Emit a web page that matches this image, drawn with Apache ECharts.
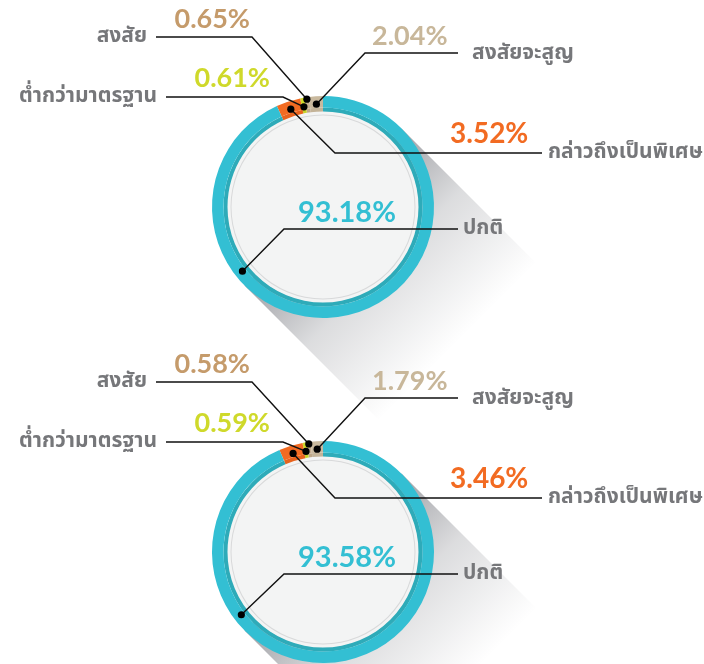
<!DOCTYPE html>
<html><head><meta charset="utf-8">
<script src="https://cdn.jsdelivr.net/npm/echarts@6/dist/echarts.min.js"></script>
<style>html,body{margin:0;padding:0;background:#fff}#c{width:704px;height:664px}</style>
</head><body><div id="c"></div>
<script>
// ---- data ----
const categories = ['สงสัยจะสูญ', 'สงสัย', 'ต่ำกว่ามาตรฐาน', 'กล่าวถึงเป็นพิเศษ', 'ปกติ'];
const valuesTop = [2.04, 0.65, 0.61, 3.52, 93.18];
const valuesBottom = [1.79, 0.58, 0.59, 3.46, 93.58];

// ---- styles ----
const ringColors  = ['#c9b99e', '#c4ad8e', '#cfd92b', '#f26b22', '#33bfd3'];
const innerColors = ['#c3b398', '#bea788', '#c8d228', '#e8631d', '#2eabb9'];
const labelColors = ['#c8b79a', '#c59b6b', '#cfd92b', '#f26b22', '#33bfd3'];
const nameColor = '#76777a';
const numFont = "Lato, 'Open Sans', sans-serif";
const thaiFont = "'Noto Sans Thai', 'Noto Sans', sans-serif";

const donuts = [
  { values: valuesTop, center: [323, 207] },
  { values: valuesBottom, center: [323, 552] }
];

// label layout relative to donut centre (positions only)
const layoutSpec = [
  { side: 'right', frac: 0.5, rad: 103, bend: [42, -154], end: 135, val: [49, -171], name: [149, -152], size: 27 },
  { side: 'left', frac: 0.5, rad: 109, bend: [-71, -170], end: -167, val: [-73, -188], name: [-176, -169], size: 27 },
  { side: 'left', frac: 0.5, rad: 102, bend: [-40, -110], end: -157, val: [-53, -129], name: [-166, -109], size: 27 },
  { side: 'right', frac: 0.5, rad: 103, bend: [12, -54], end: 219, val: [127, -73], name: [225, -53], size: 28 },
  { side: 'right', frac: 0.31, rad: 103, bend: [-39, 22], end: 135, val: [-25, 6], name: [140, 23], size: 29 }
];

const series = [];
donuts.forEach(d => {
  const base = { type: 'pie', center: d.center, startAngle: 90, clockwise: false, silent: true,
    animation: false, label: { show: false }, labelLine: { show: false }, avoidLabelOverlap: false,
    emphasis: { disabled: true }, z: 2 };
  series.push(Object.assign({}, base, { radius: [0, 96], data: [{ value: 1, itemStyle: { color: '#f3f4f4' } }] }));
  series.push(Object.assign({}, base, { radius: [91.5, 92.5], data: [{ value: 1, itemStyle: { color: '#d8d9da' } }] }));
  series.push(Object.assign({}, base, { radius: [95.5, 99.5],
    data: d.values.map((v, i) => ({ name: categories[i], value: v, itemStyle: { color: innerColors[i] } })) }));
  series.push(Object.assign({}, base, { radius: [99.5, 111],
    data: d.values.map((v, i) => ({ name: categories[i], value: v, itemStyle: { color: ringColors[i] } })) }));
});

const chart = echarts.init(document.getElementById('c'), null, { renderer: 'canvas' });
chart.setOption({ backgroundColor: '#fff', series });

// ---- overlays built from the pie's own layout ----
const model = chart.getModel();
const graphics = [];
donuts.forEach((d, k) => {
  const ringIdx = k * 4 + 3;
  const data = model.getSeriesByIndex(ringIdx).getData();
  const l0 = data.getItemLayout(0);
  const cx = l0.cx, cy = l0.cy, R = l0.r;
  const h = R / Math.SQRT2, D = 260;
  graphics.push({
    type: 'polygon', z: 0, silent: true,
    shape: { points: [[cx + h, cy - h], [cx - h, cy + h], [cx - h + D, cy + h + D], [cx + h + D, cy - h + D]] },
    style: { fill: { type: 'linear', global: true, x: cx, y: cy, x2: cx + 135, y2: cy + 135,
      colorStops: [{ offset: 0, color: 'rgba(95,97,105,0.6)' }, { offset: 0.45, color: 'rgba(95,97,105,0.22)' },
        { offset: 1, color: 'rgba(95,97,105,0)' }] } }
  });
  d.values.forEach((v, i) => {
    const s = layoutSpec[i];
    const lay = data.getItemLayout(i);
    const a = lay.startAngle + s.frac * (lay.endAngle - lay.startAngle);
    const p = [lay.cx + s.rad * Math.cos(a), lay.cy + s.rad * Math.sin(a)];
    const bend = [cx + s.bend[0], cy + s.bend[1]];
    const end = [cx + s.end, cy + s.bend[1]];
    graphics.push({ type: 'polyline', z: 100, silent: true, shape: { points: [p, bend, end] },
      style: { stroke: '#111', lineWidth: 1.4, fill: null } });
    graphics.push({ type: 'circle', z: 101, silent: true, shape: { cx: p[0], cy: p[1], r: 3.6 }, style: { fill: '#000' } });
    graphics.push({ type: 'text', z: 100, silent: true, x: cx + s.val[0], y: cy + s.val[1],
      style: { text: v.toFixed(2) + '%', fill: labelColors[i], fontSize: s.size, fontWeight: 'bold', fontFamily: numFont,
        align: s.side === 'left' ? 'right' : 'left', verticalAlign: 'middle' } });
    graphics.push({ type: 'text', z: 100, silent: true, x: cx + s.name[0], y: cy + s.name[1],
      style: { text: categories[i], fill: nameColor, fontSize: 21, fontWeight: 'bold', fontFamily: thaiFont,
        align: s.side === 'left' ? 'right' : 'left', verticalAlign: 'middle' } });
  });
});
chart.setOption({ graphic: graphics });
</script>
</body></html>
